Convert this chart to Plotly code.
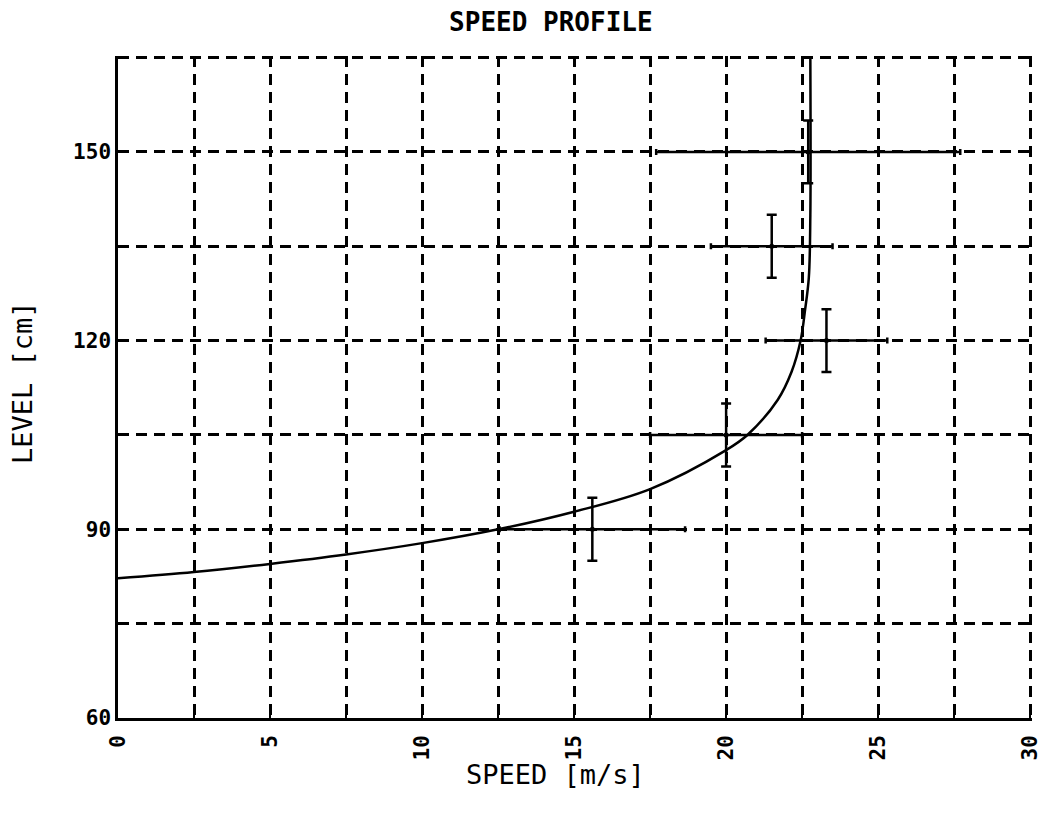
import plotly.graph_objects as go

# Measured points with error bars
speed = [15.6, 20.0, 23.3, 21.5, 22.7]
level = [90, 105, 120, 135, 150]
speed_err = [3.05, 2.5, 2.0, 2.0, 5.0]
level_err = [5, 5, 5, 5, 5]

# Fitted profile curve
curve_speed = [0, 2.5, 5, 7.5, 10, 12.5, 15, 17.5, 20, 20.7, 21.7, 22.15, 22.45, 22.6, 22.72, 22.77, 22.77]
curve_level = [82.2, 83.2, 84.5, 86.0, 87.8, 90.0, 92.8, 96.4, 102.6, 105, 110.6, 115, 120, 125, 130, 140, 165]

x_tickvals = [0, 2.5, 5, 7.5, 10, 12.5, 15, 17.5, 20, 22.5, 25, 27.5, 30]
x_ticktext = ["0", "", "5", "", "10", "", "15", "", "20", "", "25", "", "30"]
y_tickvals = [60, 75, 90, 105, 120, 135, 150, 165]
y_ticktext = ["60", "", "90", "", "120", "", "150", ""]

FONT = "DejaVu Sans Mono"

fig = go.Figure()
fig.add_trace(go.Scatter(
    x=curve_speed, y=curve_level, mode="lines",
    line=dict(color="black", width=2.5, shape="spline", smoothing=1.0),
    showlegend=False, hoverinfo="skip",
))
fig.add_trace(go.Scatter(
    x=speed, y=level, mode="markers",
    marker=dict(color="black", size=5),
    error_x=dict(type="data", array=speed_err, symmetric=True, color="black", thickness=2.5, width=3),
    error_y=dict(type="data", array=level_err, symmetric=True, color="black", thickness=2.5, width=5),
    showlegend=False,
))

fig.update_layout(
    width=1038, height=808,
    paper_bgcolor="white", plot_bgcolor="white",
    margin=dict(l=110, r=14, t=48, b=98, autoexpand=False),
    title=dict(text="SPEED PROFILE", x=0.523, xanchor="center", y=0.983, yanchor="middle",
               yref="container", font=dict(family=FONT, size=26, color="black", weight="bold")),
    font=dict(family=FONT, color="black"),
    annotations=[
        dict(text="SPEED [m/s]", xref="paper", yref="paper", x=0.479, y=-0.086,
             xanchor="center", yanchor="middle", showarrow=False,
             font=dict(family=FONT, size=27, color="black")),
        dict(text="LEVEL [cm]", xref="paper", yref="paper", x=-0.105, y=0.506,
             xanchor="center", yanchor="middle", showarrow=False, textangle=-90,
             font=dict(family=FONT, size=27, color="black")),
    ],
)
fig.update_xaxes(
    range=[0, 30.06], tickvals=x_tickvals, ticktext=x_ticktext, tickangle=-90,
    automargin=False, ticklabelstandoff=6,
    ticks="inside", ticklen=10, tickwidth=2, tickcolor="black",
    showline=True, linecolor="black", linewidth=2.5, mirror=False, zeroline=False,
    showgrid=True, gridcolor="black", gridwidth=2.5, griddash="11px,7px",
    tickfont=dict(family=FONT, size=21, color="black", weight="bold"),
)
fig.update_yaxes(
    range=[60, 165.25], tickvals=y_tickvals, ticktext=y_ticktext,
    automargin=False,
    ticks="inside", ticklen=8, tickwidth=2, tickcolor="black",
    showline=True, linecolor="black", linewidth=2.5, mirror=False, zeroline=False,
    showgrid=True, gridcolor="black", gridwidth=2.5, griddash="11px,7px",
    tickfont=dict(family=FONT, size=21, color="black", weight="bold"),
)

fig.write_html("out.html")
